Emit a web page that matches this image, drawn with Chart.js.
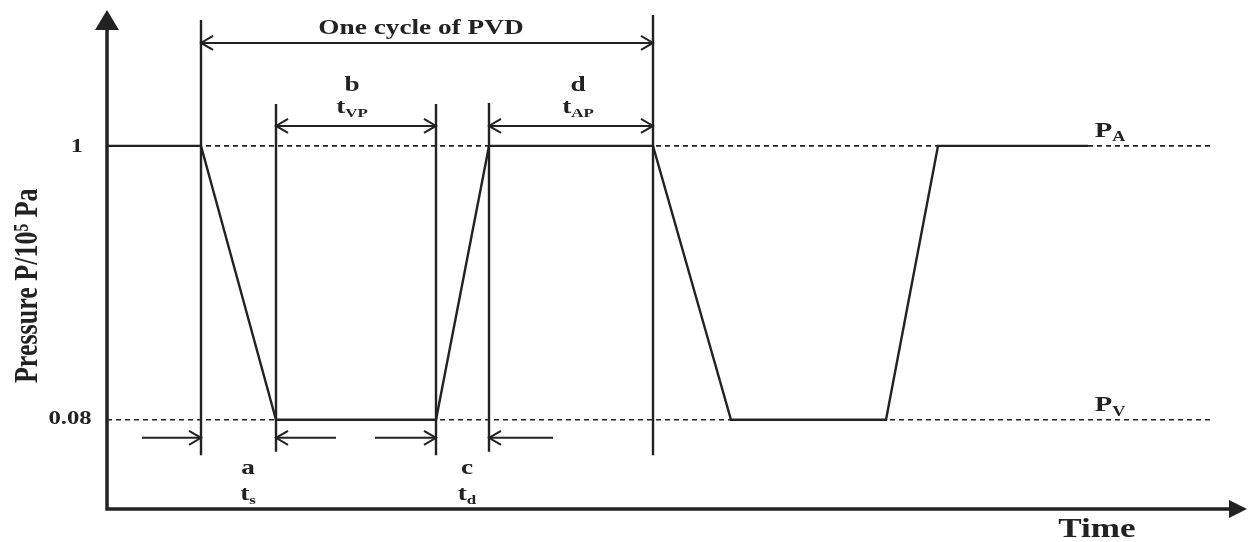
<!DOCTYPE html>
<html>
<head>
<meta charset="utf-8">
<script src="https://cdn.jsdelivr.net/npm/chart.js@4"></script>
<style>
  html, body { margin: 0; padding: 0; background: #fff; }
</style>
</head>
<body>
<canvas id="pvdChart" width="1248" height="542"></canvas>
<script>
// pressure cycle (time in arbitrary units, pressure in 10^5 Pa)
var times = [0, 9.4, 16.9, 32.9, 38.2, 54.6, 62.4, 77.9, 83.1, 98.1];
var pressures = [1, 1, 0.08, 0.08, 1, 1, 0.08, 0.08, 1, 1];
var levels = [1, 0.08];
var levelNames = ["A", "V"];
var levelEnd = 110.6;
var tickLabels = ["1", "0.08"];

// vertical marker lines of one cycle
var markerTimes = [9.4, 16.9, 32.9, 38.2, 54.6];
var markerTops = [1.423, 1.141, 1.141, 1.144, 1.44];
var markerBottoms = [-0.039, -0.028, -0.039, -0.028, -0.039];

var INK = "#222";
var FONT = '"Liberation Serif", "Times New Roman", serif';
var SX = 1.3; // the source picture is stretched sideways

function txt(ctx, s, x, y, size, sub, subSize) {
    ctx.save();
    ctx.translate(x, y);
    ctx.scale(SX, 1);
    ctx.fillStyle = INK;
    ctx.textBaseline = "alphabetic";
    ctx.font = "bold " + size + "px " + FONT;
    var w1 = ctx.measureText(s).width;
    var w2 = 0;
    if (sub) {
        ctx.font = "bold " + subSize + "px " + FONT;
        w2 = ctx.measureText(sub).width;
    }
    var x0 = -(w1 + w2) / 2;
    ctx.textAlign = "left";
    ctx.font = "bold " + size + "px " + FONT;
    ctx.fillText(s, x0, size * 0.35);
    if (sub) {
        ctx.font = "bold " + subSize + "px " + FONT;
        ctx.fillText(sub, x0 + w1, size * 0.35 + subSize * 0.3);
    }
    ctx.restore();
}

function chevron(ctx, x, y, dir) {
    ctx.beginPath();
    ctx.moveTo(x - dir * 12, y - 7);
    ctx.lineTo(x, y);
    ctx.lineTo(x - dir * 12, y + 7);
    ctx.stroke();
}

function hArrow(ctx, x1, x2, y, both) {
    ctx.beginPath();
    ctx.moveTo(x1, y);
    ctx.lineTo(x2, y);
    ctx.stroke();
    chevron(ctx, x2, y, x2 > x1 ? 1 : -1);
    if (both) chevron(ctx, x1, y, x1 > x2 ? 1 : -1);
}

var schematic = {
    id: "schematic",
    afterDraw: function (chart) {
        var ctx = chart.ctx;
        var xs = chart.scales.x, ys = chart.scales.y;
        var X = function (v) { return xs.getPixelForValue(v); };
        var Y = function (v) { return ys.getPixelForValue(v); };
        var ca = chart.chartArea;

        ctx.save();
        ctx.strokeStyle = INK;
        ctx.fillStyle = INK;

        // axes with arrow heads
        ctx.lineWidth = 3.5;
        ctx.beginPath();
        ctx.moveTo(ca.left, ca.top + 12);
        ctx.lineTo(ca.left, ca.bottom);
        ctx.lineTo(ca.right - 10, ca.bottom);
        ctx.stroke();
        ctx.beginPath();
        ctx.moveTo(ca.left, ca.top - 2);
        ctx.lineTo(ca.left - 12, ca.top + 18);
        ctx.lineTo(ca.left + 12, ca.top + 18);
        ctx.closePath();
        ctx.fill();
        ctx.beginPath();
        ctx.moveTo(ca.right + 7, ca.bottom);
        ctx.lineTo(ca.right - 11, ca.bottom - 9);
        ctx.lineTo(ca.right - 11, ca.bottom + 9);
        ctx.closePath();
        ctx.fill();

        // tick labels
        txt(ctx, tickLabels[0], ca.left - 30, Y(levels[0]) - 1, 19);
        txt(ctx, tickLabels[1], ca.left - 37, Y(levels[1]) - 2, 19);

        // axis titles
        ctx.save();
        ctx.translate(ca.left - 79, Y(0.5) - 9);
        ctx.scale(SX, 1);
        ctx.rotate(-Math.PI / 2);
        ctx.font = "bold 26px " + FONT;
        ctx.textAlign = "center";
        ctx.textBaseline = "middle";
        ctx.fillText("Pressure P/10\u2075 Pa", 0, 0);
        ctx.restore();
        txt(ctx, "Time", X(99.0), Y(-0.282), 27);

        // dimension arrows
        ctx.lineWidth = 2;
        hArrow(ctx, X(markerTimes[0]), X(markerTimes[4]), Y(1.346), true);
        hArrow(ctx, X(markerTimes[1]), X(markerTimes[2]), Y(1.067), true);
        hArrow(ctx, X(markerTimes[3]), X(markerTimes[4]), Y(1.067), true);
        hArrow(ctx, X(3.5), X(markerTimes[0]), Y(0.019));
        hArrow(ctx, X(22.9), X(markerTimes[1]), Y(0.019));
        hArrow(ctx, X(26.8), X(markerTimes[2]), Y(0.019));
        hArrow(ctx, X(44.6), X(markerTimes[3]), Y(0.019));

        // labels
        txt(ctx, "One cycle of PVD", X(31.4), Y(1.402), 21);
        txt(ctx, "b", X(24.5), Y(1.21), 21);
        txt(ctx, "t", X(24.5), Y(1.135), 21, "VP", 13);
        txt(ctx, "d", X(47.1), Y(1.21), 21);
        txt(ctx, "t", X(47.1), Y(1.135), 21, "AP", 13);
        txt(ctx, "a", X(14.1), Y(-0.079), 21);
        txt(ctx, "t", X(14.1), Y(-0.166), 21, "s", 13);
        txt(ctx, "c", X(36.0), Y(-0.079), 21);
        txt(ctx, "t", X(36.0), Y(-0.166), 21, "d", 13);
        txt(ctx, "P", X(100.3), Y(levels[0]) - 17, 22, levelNames[0], 14);
        txt(ctx, "P", X(100.3), Y(levels[1]) - 16, 22, levelNames[1], 14);
        ctx.restore();
    }
};

var datasets = [];
levels.forEach(function (p) {
    datasets.push({
        data: [{ x: 0, y: p }, { x: levelEnd, y: p }],
        borderColor: INK,
        borderWidth: 1.6,
        borderDash: [5, 4],
        showLine: true,
        pointRadius: 0
    });
});
markerTimes.forEach(function (t, i) {
    datasets.push({
        data: [{ x: t, y: markerTops[i] }, { x: t, y: markerBottoms[i] }],
        borderColor: INK,
        borderWidth: 2.4,
        showLine: true,
        pointRadius: 0
    });
});
datasets.push({
    data: times.map(function (t, i) { return { x: t, y: pressures[i] }; }),
    borderColor: INK,
    borderWidth: 2.4,
    showLine: true,
    pointRadius: 0,
    tension: 0
});

var ctx = document.getElementById("pvdChart").getContext("2d");
var chart = new Chart(ctx, {
    type: "scatter",
    data: { datasets: datasets },
    options: {
        responsive: false,
        animation: false,
        layout: { padding: { left: 107, right: 8, top: 12, bottom: 33 } },
        plugins: { legend: { display: false }, tooltip: { enabled: false } },
        scales: {
            x: { type: "linear", display: false, min: 0, max: 113.3 },
            y: { type: "linear", display: false, min: -0.22, max: 1.45 }
        }
    },
    plugins: [schematic]
});
</script>
</body>
</html>
